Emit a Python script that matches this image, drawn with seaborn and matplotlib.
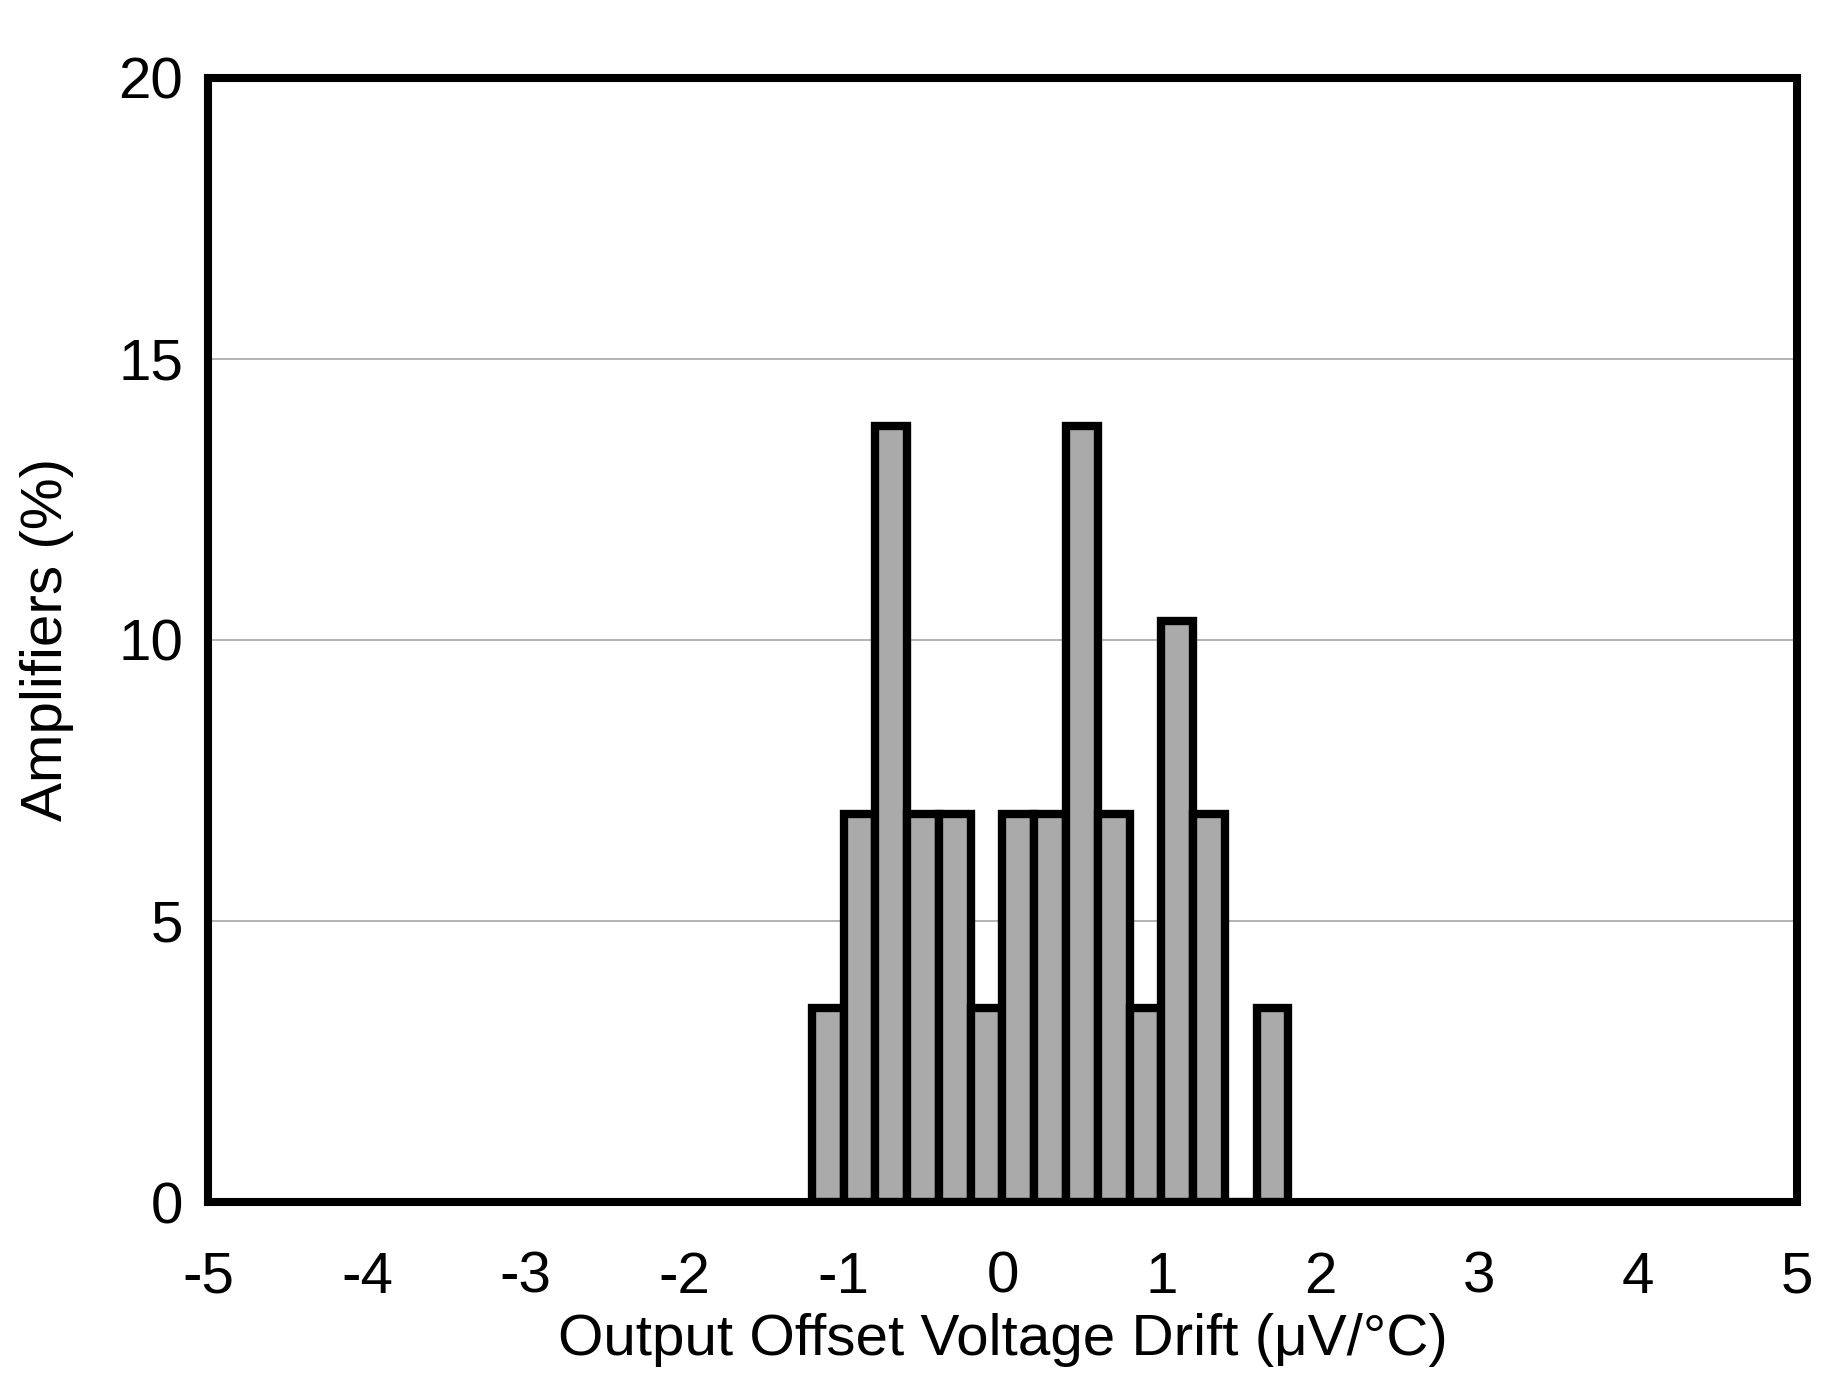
import matplotlib
matplotlib.use("Agg")
import matplotlib.pyplot as plt
import seaborn as sns
import numpy as np
import pandas as pd

# Bin centres (µV/°C) and percentage of amplifiers in each bin
bin_centers = [-1.1, -0.9, -0.7, -0.5, -0.3, -0.1, 0.1, 0.3, 0.5, 0.7, 0.9, 1.1, 1.3, 1.5, 1.7]
percent = [3.45, 6.9, 13.8, 6.9, 6.9, 3.45, 6.9, 6.9, 13.8, 6.9, 3.45, 10.34, 6.9, 0.0, 3.45]
bin_edges = [-1.2, -1.0, -0.8, -0.6, -0.4, -0.2, 0.0, 0.2, 0.4, 0.6, 0.8, 1.0, 1.2, 1.4, 1.6, 1.8]
x_ticks = [-5, -4, -3, -2, -1, 0, 1, 2, 3, 4, 5]
y_ticks = [0, 5, 10, 15, 20]

sns.set_theme(style="white")
plt.rcParams['font.family'] = ['Liberation Sans', 'DejaVu Sans']
plt.rcParams['axes.unicode_minus'] = False

df = pd.DataFrame({"drift": bin_centers, "pct": percent})

fig = plt.figure(figsize=(18.43, 13.82), dpi=100)
ax = fig.add_axes([0.1129, 0.1302, 0.975 - 0.1129, 0.9438 - 0.1302])

sns.histplot(data=df, x="drift", weights="pct", bins=bin_edges, ax=ax,
             color="#aaaaaa", edgecolor="black", linewidth=6.0, alpha=1.0,
             zorder=3)

ax.set_xlim(-5, 5)
ax.set_ylim(0, 20)
ax.set_xticks(x_ticks)
ax.set_yticks(y_ticks)
ax.set_xticklabels([str(t) for t in x_ticks])
ax.set_yticklabels([str(t) for t in y_ticks])
ax.yaxis.grid(True, color="#a6a6a6", linewidth=1.2, zorder=0)
ax.xaxis.grid(False)
ax.set_axisbelow(True)

for s in ax.spines.values():
    s.set_linewidth(5.8)
    s.set_color("black")
    s.set_zorder(5)

ax.tick_params(axis="both", length=0, labelsize=42, colors="black")
ax.tick_params(axis="x", pad=35)
ax.tick_params(axis="y", pad=18)
ax.set_xlabel("Output Offset Voltage Drift (μV/°C)", fontsize=42, labelpad=6, color="black")
ax.set_ylabel("Amplifiers (%)", fontsize=42, labelpad=32, color="black")

fig.savefig("out.png", dpi=100, facecolor="white")
